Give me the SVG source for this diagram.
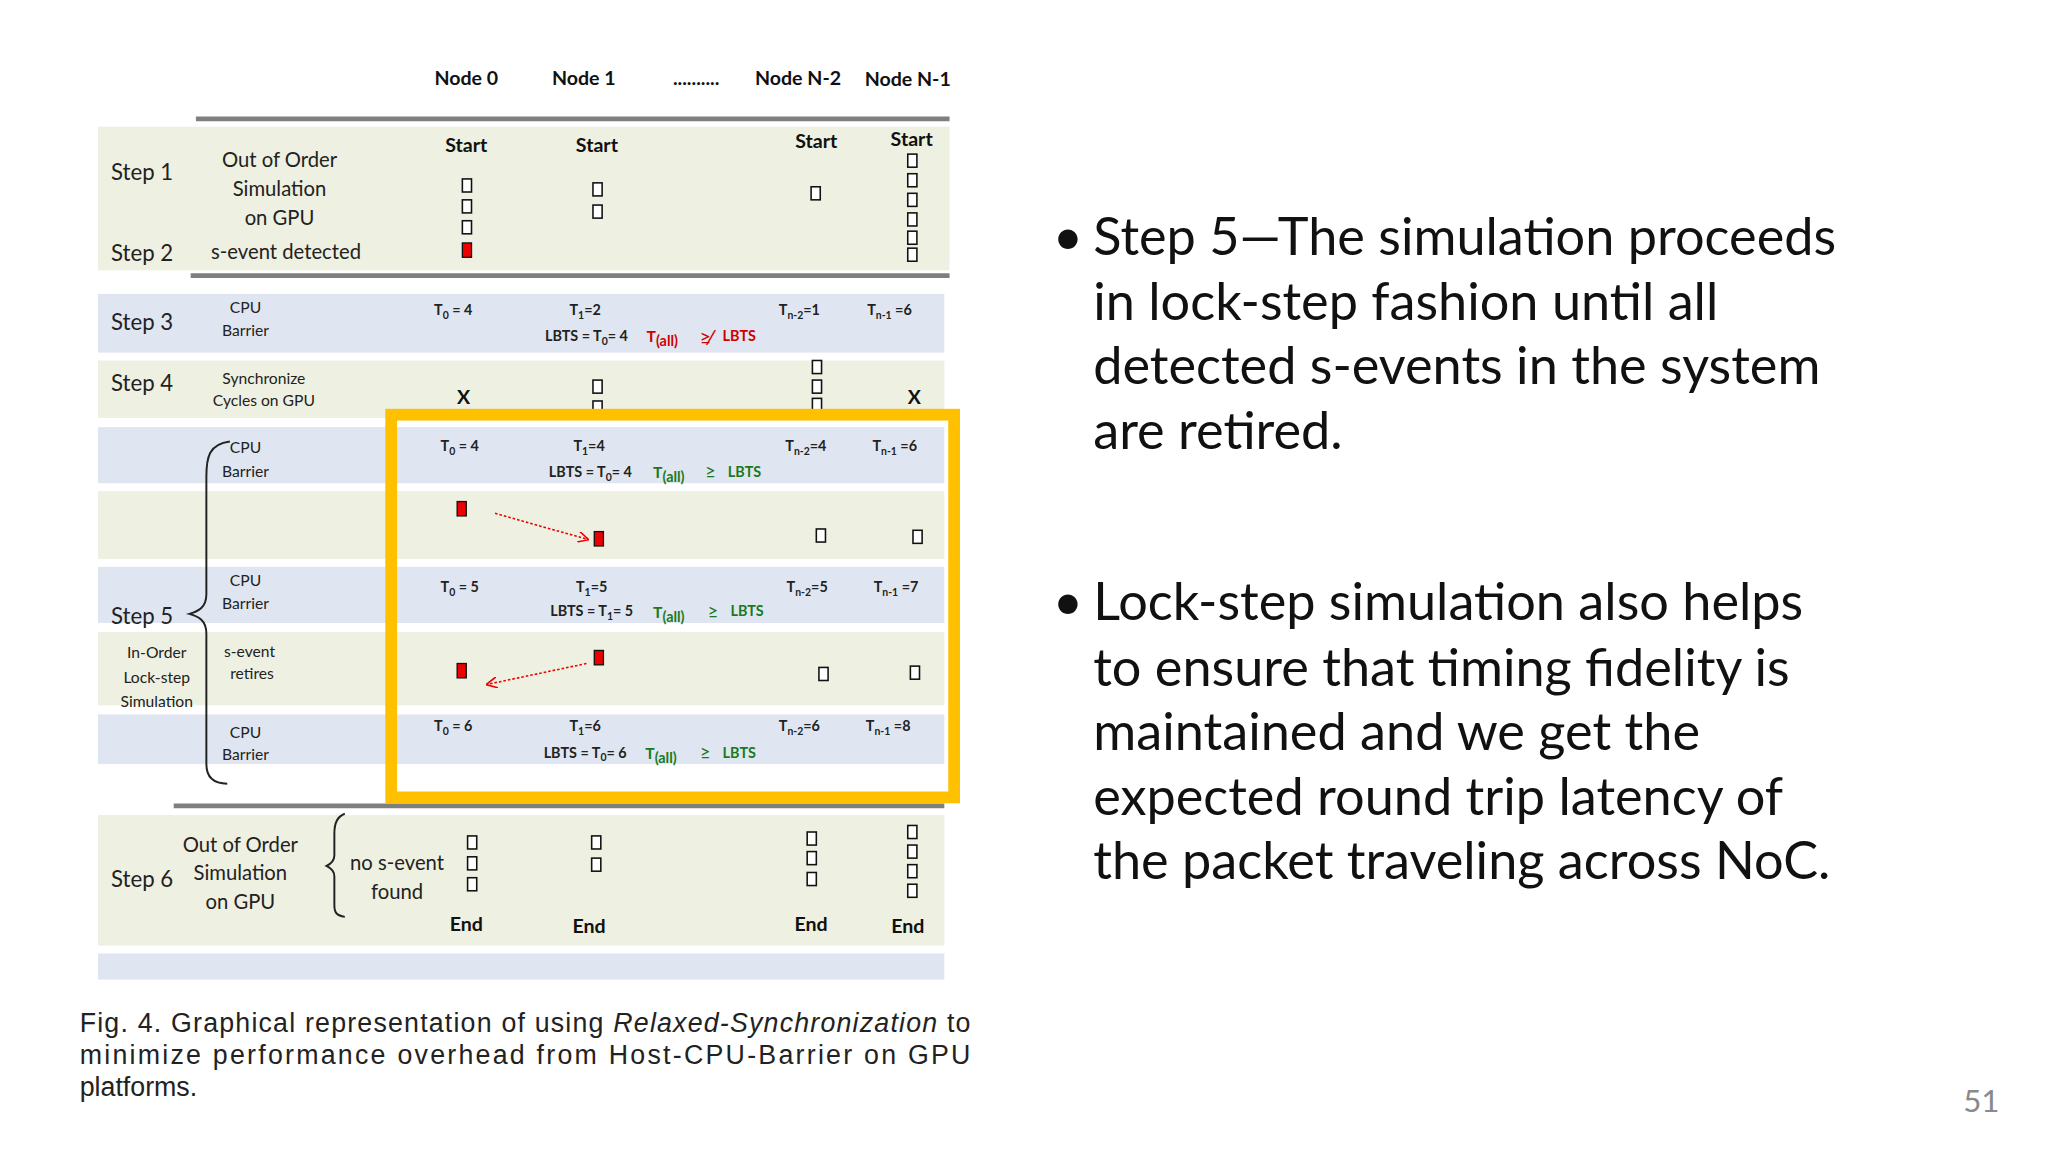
<svg xmlns="http://www.w3.org/2000/svg" width="2048" height="1152" viewBox="0 0 2048 1152">
<defs>
<style>
.s{font-family:Lato,"Open Sans",sans-serif;fill:#222}
.st{font-size:17px}
.m{font-size:15.5px;text-anchor:middle}
.sm{font-size:12px;text-anchor:middle}
.t{font-size:11px;text-anchor:middle;font-weight:bold}
.b{font-family:Lato,"Open Sans",sans-serif;font-weight:bold;font-size:15px;text-anchor:middle;fill:#111}
.g{fill:#eef0e1}
.bl{fill:#dfe6f1}
.bx{fill:#fff;stroke:#111;stroke-width:1.2}
.rd{fill:#e00;stroke:#111;stroke-width:1}
.hl{stroke:#7f7f7f;stroke-width:3.5}
.red{fill:#d00000}
.grn{fill:#1a7a1a}
.br{fill:none;stroke:#222;stroke-width:1.5}
.bul{font-family:Lato,"Open Sans",sans-serif;font-size:40px;fill:#111}
.cap{font-family:"Liberation Sans",Arial,sans-serif;font-size:20.5px;fill:#222}
</style>
<marker id="ah" viewBox="0 0 10 10" refX="9" refY="5" markerWidth="7" markerHeight="7" orient="auto"><path d="M0,0 L10,5 L0,10" fill="none" stroke="#e00" stroke-width="1.5"/></marker>
</defs>
<rect width="2048" height="1152" fill="#fff"/>
<g transform="scale(1.30612)">
<g id="bands">
<rect class="g" x="75" y="97" width="652" height="110"/>
<rect class="bl" x="75" y="225" width="648" height="45"/>
<rect class="g" x="75" y="276" width="648" height="44"/>
<rect class="bl" x="75" y="327" width="648" height="43"/>
<rect class="g" x="75" y="376" width="648" height="52"/>
<rect class="bl" x="75" y="434" width="648" height="43"/>
<rect class="g" x="75" y="484" width="648" height="56"/>
<rect class="bl" x="75" y="547" width="648" height="38"/>
<rect class="g" x="75" y="624" width="648" height="100"/>
<rect class="bl" x="75" y="730" width="648" height="20"/>
<line class="hl" x1="150" y1="91" x2="727" y2="91"/>
<line class="hl" x1="146" y1="211" x2="727" y2="211"/>
<line class="hl" x1="133" y1="617" x2="723" y2="617"/>
</g>
<g id="header">
<text class="b" x="357" y="65">Node 0</text>
<text class="b" x="447" y="65">Node 1</text>
<text class="b" x="533" y="65">..........</text>
<text class="b" x="611" y="65">Node N-2</text>
<text class="b" x="695" y="66">Node N-1</text>
</g>
<g id="step12">
<text class="s st" x="85" y="138">Step 1</text>
<text class="s st" x="85" y="200">Step 2</text>
<text class="s m" x="214" y="128">Out of Order</text>
<text class="s m" x="214" y="150">Simulation</text>
<text class="s m" x="214" y="172">on GPU</text>
<text class="s m" x="219" y="198">s-event detected</text>
<text class="b" x="357" y="116">Start</text>
<text class="b" x="457" y="116">Start</text>
<text class="b" x="625" y="113">Start</text>
<text class="b" x="698" y="112">Start</text>
<rect class="bx" x="354" y="137" width="7" height="10"/>
<rect class="bx" x="354" y="153" width="7" height="10"/>
<rect class="bx" x="354" y="169" width="7" height="10"/>
<rect class="rd" x="354" y="186" width="7" height="11"/>
<rect class="bx" x="454" y="140" width="7" height="10"/>
<rect class="bx" x="454" y="157" width="7" height="10"/>
<rect class="bx" x="621" y="143" width="7" height="10"/>
<rect class="bx" x="695" y="118" width="7" height="10"/>
<rect class="bx" x="695" y="133" width="7" height="10"/>
<rect class="bx" x="695" y="148" width="7" height="10"/>
<rect class="bx" x="695" y="163" width="7" height="10"/>
<rect class="bx" x="695" y="177" width="7" height="10"/>
<rect class="bx" x="695" y="190" width="7" height="10"/>
</g>
<g id="step3">
<text class="s st" x="85" y="253">Step 3</text>
<text class="s sm" x="188" y="240">CPU</text>
<text class="s sm" x="188" y="257">Barrier</text>
<text class="s t" x="347" y="241">T<tspan font-size="8" dy="3">0</tspan><tspan dy="-3"> = 4</tspan></text>
<text class="s t" x="448" y="241">T<tspan font-size="8" dy="3">1</tspan><tspan dy="-3">=2</tspan></text>
<text class="s t" x="449" y="261">LBTS = T<tspan font-size="8" dy="3">0</tspan><tspan dy="-3">= 4</tspan></text>
<text class="s red" x="495" y="262" font-size="12" font-weight="bold">T<tspan font-size="11" dy="3">(all)</tspan></text>
<text class="s red" x="540" y="263" font-size="15" text-anchor="middle">≱</text>
<text class="s red t" x="566" y="261">LBTS</text>
<text class="s t" x="612" y="241">T<tspan font-size="8" dy="3">n-2</tspan><tspan dy="-3">=1</tspan></text>
<text class="s t" x="681" y="241">T<tspan font-size="8" dy="3">n-1</tspan><tspan dy="-3"> =6</tspan></text>
</g>
<g id="step4">
<text class="s st" x="85" y="299">Step 4</text>
<text class="s sm" x="202" y="294">Synchronize</text>
<text class="s sm" x="202" y="311">Cycles on GPU</text>
<text class="b" x="355" y="309">X</text>
<text class="b" x="700" y="309">X</text>
<rect class="bx" x="454" y="291" width="7" height="10"/>
<rect class="bx" x="454" y="307" width="7" height="10"/>
<rect class="bx" x="622" y="276" width="7" height="10"/>
<rect class="bx" x="622" y="291" width="7" height="10"/>
<rect class="bx" x="622" y="305" width="7" height="10"/>
</g>
<g id="step5">
<text class="s st" x="85" y="478">Step 5</text>
<path class="br" d="M176,338 C160,340 158,350 158,365 L158,455 C158,465 152,468 145,470 C152,472 158,475 158,485 L158,585 C158,595 163,600 174,600"/>
<text class="s sm" x="188" y="347">CPU</text>
<text class="s sm" x="188" y="365">Barrier</text>
<text class="s sm" x="188" y="449">CPU</text>
<text class="s sm" x="188" y="466">Barrier</text>
<text class="s sm" x="120" y="504">In-Order</text>
<text class="s sm" x="120" y="523">Lock-step</text>
<text class="s sm" x="120" y="541">Simulation</text>
<text class="s sm" x="191" y="503">s-event</text>
<text class="s sm" x="193" y="520">retires</text>
<text class="s sm" x="188" y="565">CPU</text>
<text class="s sm" x="188" y="582">Barrier</text>
<text class="s t" x="352" y="345">T<tspan font-size="8" dy="3">0</tspan><tspan dy="-3"> = 4</tspan></text>
<text class="s t" x="451" y="345">T<tspan font-size="8" dy="3">1</tspan><tspan dy="-3">=4</tspan></text>
<text class="s t" x="452" y="365">LBTS = T<tspan font-size="8" dy="3">0</tspan><tspan dy="-3">= 4</tspan></text>
<text class="s grn" x="500" y="366" font-size="12" font-weight="bold">T<tspan font-size="11" dy="3">(all)</tspan></text>
<text class="s grn" x="544" y="366" font-size="14" text-anchor="middle">≥</text>
<text class="s grn t" x="570" y="365">LBTS</text>
<text class="s t" x="617" y="345">T<tspan font-size="8" dy="3">n-2</tspan><tspan dy="-3">=4</tspan></text>
<text class="s t" x="685" y="345">T<tspan font-size="8" dy="3">n-1</tspan><tspan dy="-3"> =6</tspan></text>
<rect class="rd" x="350" y="384" width="7" height="11"/>
<rect class="rd" x="455" y="407" width="7" height="11"/>
<rect class="bx" x="625" y="405" width="7" height="10"/>
<rect class="bx" x="699" y="406" width="7" height="10"/>
<text class="s t" x="352" y="453">T<tspan font-size="8" dy="3">0</tspan><tspan dy="-3"> = 5</tspan></text>
<text class="s t" x="453" y="453">T<tspan font-size="8" dy="3">1</tspan><tspan dy="-3">=5</tspan></text>
<text class="s t" x="453" y="472">LBTS = T<tspan font-size="8" dy="3">1</tspan><tspan dy="-3">= 5</tspan></text>
<text class="s grn" x="500" y="473" font-size="12" font-weight="bold">T<tspan font-size="11" dy="3">(all)</tspan></text>
<text class="s grn" x="546" y="473" font-size="14" text-anchor="middle">≥</text>
<text class="s grn t" x="572" y="472">LBTS</text>
<text class="s t" x="618" y="453">T<tspan font-size="8" dy="3">n-2</tspan><tspan dy="-3">=5</tspan></text>
<text class="s t" x="686" y="453">T<tspan font-size="8" dy="3">n-1</tspan><tspan dy="-3"> =7</tspan></text>
<rect class="rd" x="350" y="508" width="7" height="11"/>
<rect class="rd" x="455" y="498" width="7" height="11"/>
<rect class="bx" x="627" y="511" width="7" height="10"/>
<rect class="bx" x="697" y="510" width="7" height="10"/>
<text class="s t" x="347" y="560">T<tspan font-size="8" dy="3">0</tspan><tspan dy="-3"> = 6</tspan></text>
<text class="s t" x="448" y="560">T<tspan font-size="8" dy="3">1</tspan><tspan dy="-3">=6</tspan></text>
<text class="s t" x="448" y="580">LBTS = T<tspan font-size="8" dy="3">0</tspan><tspan dy="-3">= 6</tspan></text>
<text class="s grn" x="494" y="581" font-size="12" font-weight="bold">T<tspan font-size="11" dy="3">(all)</tspan></text>
<text class="s grn" x="540" y="581" font-size="14" text-anchor="middle">≥</text>
<text class="s grn t" x="566" y="580">LBTS</text>
<text class="s t" x="612" y="560">T<tspan font-size="8" dy="3">n-2</tspan><tspan dy="-3">=6</tspan></text>
<text class="s t" x="680" y="560">T<tspan font-size="8" dy="3">n-1</tspan><tspan dy="-3"> =8</tspan></text>
<rect x="299.5" y="317.5" width="431" height="293" fill="none" stroke="#ffc000" stroke-width="9"/>
</g>
<g id="connectors">
<line x1="379" y1="393" x2="450" y2="413" stroke="#e00" stroke-width="1.2" stroke-dasharray="2,1.5" marker-end="url(#ah)"/>
<line x1="449" y1="508" x2="373" y2="524" stroke="#e00" stroke-width="1.2" stroke-dasharray="2,1.5" marker-end="url(#ah)"/>
</g>
<g id="step6">
<text class="s st" x="85" y="679">Step 6</text>
<text class="s m" x="184" y="652">Out of Order</text>
<text class="s m" x="184" y="674">Simulation</text>
<text class="s m" x="184" y="696">on GPU</text>
<path class="br" d="M264,623 C258,625 256,630 256,638 L256,655 C256,659 254,661 250,663 C254,665 256,667 256,671 L256,693 C256,699 258,701 264,702"/>
<text class="s m" x="304" y="666">no s-event</text>
<text class="s m" x="304" y="688">found</text>
<rect class="bx" x="358" y="640" width="7" height="10"/>
<rect class="bx" x="358" y="656" width="7" height="10"/>
<rect class="bx" x="358" y="672" width="7" height="10"/>
<rect class="bx" x="453" y="640" width="7" height="10"/>
<rect class="bx" x="453" y="657" width="7" height="10"/>
<rect class="bx" x="618" y="637" width="7" height="10"/>
<rect class="bx" x="618" y="652" width="7" height="10"/>
<rect class="bx" x="618" y="668" width="7" height="10"/>
<rect class="bx" x="695" y="632" width="7" height="10"/>
<rect class="bx" x="695" y="647" width="7" height="10"/>
<rect class="bx" x="695" y="662" width="7" height="10"/>
<rect class="bx" x="695" y="677" width="7" height="10"/>
<text class="b" x="357" y="713">End</text>
<text class="b" x="451" y="714">End</text>
<text class="b" x="621" y="713">End</text>
<text class="b" x="695" y="714">End</text>
</g>
<g id="caption">
<text class="cap" x="61" y="790" textLength="682" lengthAdjust="spacing">Fig. 4. Graphical representation of using <tspan font-style="italic">Relaxed-Synchronization</tspan> to</text>
<text class="cap" x="61" y="815" textLength="682" lengthAdjust="spacing">minimize performance overhead from Host-CPU-Barrier on GPU</text>
<text class="cap" x="61" y="839">platforms.</text>
</g>
<g id="bullets">
<text class="bul" x="806" y="195">•</text>
<text class="bul" x="837" y="195">Step 5—The simulation proceeds</text>
<text class="bul" x="837" y="245">in lock-step fashion until all</text>
<text class="bul" x="837" y="294">detected s-events in the system</text>
<text class="bul" x="837" y="344">are retired.</text>
<text class="bul" x="806" y="475">•</text>
<text class="bul" x="837" y="475">Lock-step simulation also helps</text>
<text class="bul" x="837" y="525">to ensure that timing fidelity is</text>
<text class="bul" x="837" y="574">maintained and we get the</text>
<text class="bul" x="837" y="624">expected round trip latency of</text>
<text class="bul" x="837" y="673">the packet traveling across NoC.</text>
<text x="1517" y="851" font-family="Lato,sans-serif" font-size="24" fill="#8a8a8a" text-anchor="middle">51</text>
</g>
</g>
</svg>
